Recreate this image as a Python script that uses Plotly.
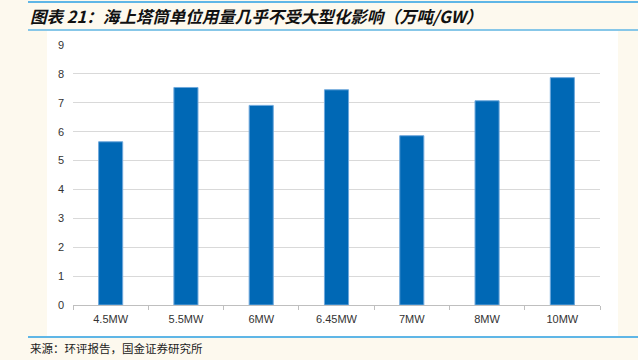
import plotly.graph_objects as go

categories = ["4.5MW", "5.5MW", "6MW", "6.45MW", "7MW", "8MW", "10MW"]
values = [5.65, 7.53, 6.91, 7.45, 5.86, 7.07, 7.87]
y_ticks = [0, 1, 2, 3, 4, 5, 6, 7, 8, 9]

title_text = "图表 21：海上塔筒单位用量几乎不受大型化影响（万吨/GW）"
source_text = "来源：环评报告，国金证券研究所"

W, H = 638, 360
L, R, T, B = 73, 600, 45, 305

def px(x):
    return (x - L) / (R - L)

def py(y):
    return (B - y) / (B - T)

fig = go.Figure()
fig.add_trace(go.Bar(
    x=categories, y=values,
    marker=dict(color="#0068B5", line=dict(color="#6FA8DC", width=1)),
    width=0.32,
))

shapes = [
    dict(type="rect", xref="paper", yref="paper", x0=px(47), x1=px(618), y0=py(336), y1=py(31),
         fillcolor="white", line=dict(width=0), layer="below"),
    dict(type="line", xref="paper", yref="paper", x0=px(28), x1=px(638), y0=py(2), y1=py(2),
         line=dict(color="#5FB6E6", width=2)),
    dict(type="line", xref="paper", yref="paper", x0=px(28), x1=px(638), y0=py(30), y1=py(30),
         line=dict(color="#5FB6E6", width=1.5)),
    dict(type="line", xref="paper", yref="paper", x0=px(28), x1=px(638), y0=py(337), y1=py(337),
         line=dict(color="#5FB6E6", width=2)),
]

annotations = [
    dict(text="<b><i>" + title_text + "</i></b>", xref="paper", yref="paper",
         x=px(28), y=py(16), xanchor="left", yanchor="middle", showarrow=False,
         font=dict(family="Noto Sans CJK SC", size=16.5, color="#111111")),
    dict(text=source_text, xref="paper", yref="paper",
         x=px(28), y=py(348), xanchor="left", yanchor="middle", showarrow=False,
         font=dict(family="Noto Sans CJK SC", size=11.5, color="#222222")),
]

fig.update_layout(
    width=W, height=H,
    margin=dict(l=L, r=W - R, t=T, b=H - B),
    paper_bgcolor="#FDF9EE",
    plot_bgcolor="white",
    showlegend=False,
    shapes=shapes,
    annotations=annotations,
    font=dict(family="Liberation Sans, Arial", size=11, color="#333333"),
    xaxis=dict(
        showline=True, linecolor="#BFBFBF", linewidth=1,
        ticks="outside", tickson="boundaries", ticklen=4, tickcolor="#BFBFBF",
        tickfont=dict(size=11, color="#333333"),
        ticklabelstandoff=4,
        showgrid=False,
    ),
    yaxis=dict(
        range=[0, 9], tickvals=y_ticks,
        showgrid=True, gridcolor="#D9D9D9", gridwidth=1,
        zeroline=False, showline=False,
        tickfont=dict(size=11, color="#333333"),
        ticklabelstandoff=8,
    ),
)

fig.write_html("out.html")
